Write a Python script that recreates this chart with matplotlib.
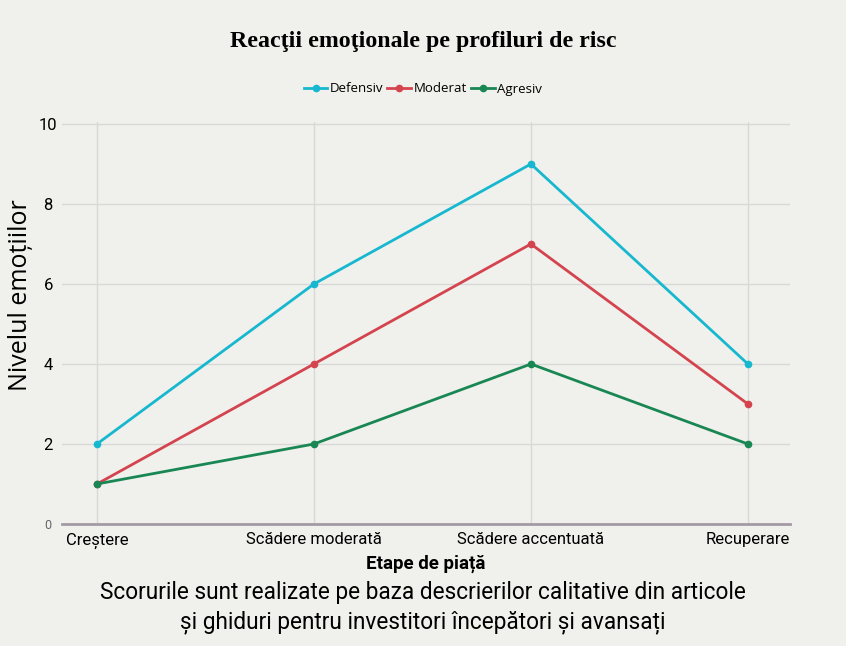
import matplotlib
matplotlib.use("Agg")
from matplotlib import pyplot as plt
import numpy as np

# data
etape = ["Creștere", "Scădere moderată", "Scădere accentuată", "Recuperare"]
defensiv = [2, 6, 9, 4]
moderat = [1, 4, 7, 3]
agresiv = [1, 2, 4, 2]
y_ticks = [0, 2, 4, 6, 8, 10]

bg = "#f0f1ec"
sans = ["Roboto", "DejaVu Sans"]

fig = plt.figure(figsize=(8.46, 6.46), dpi=100, facecolor=bg)
ax = fig.add_axes([62/846, 1-524/646, (790-62)/846, (524-122)/646], facecolor=bg)

x = np.arange(len(etape))
ax.plot(x, defensiv, color="#17b8cf", lw=2, marker="o", ms=4.5, label="Defensiv")
ax.plot(x, moderat, color="#d4444f", lw=2, marker="o", ms=4.5, label="Moderat")
ax.plot(x, agresiv, color="#198754", lw=2, marker="o", ms=4.5, label="Agresiv")

ax.set_xlim(-0.161, 3.194)
ax.set_ylim(0, 10.05)
ax.set_xticks(x)
ax.set_xticklabels(etape, fontsize=12, family=sans)
ax.set_yticks(y_ticks)
ax.set_yticklabels([str(v) for v in y_ticks], fontsize=12, family=sans)
ax.get_yticklabels()[0].set_fontsize(9)
ax.get_yticklabels()[0].set_color("#666666")
for lab in ax.get_yticklabels():
    lab.set_horizontalalignment("center")
ax.tick_params(axis="y", length=0, pad=10)
ax.tick_params(axis="x", length=0, pad=6)

ax.grid(True, color="#d8d8d8", lw=1)
ax.set_axisbelow(True)
for s in ["top", "right", "left"]:
    ax.spines[s].set_visible(False)
ax.spines["bottom"].set_color("#a39aa6")
ax.spines["bottom"].set_linewidth(2)

ax.set_xlabel("Etape de piață", fontsize=13.5, fontweight="bold", family=sans, labelpad=4)
ax.set_ylabel("Nivelul emoțiilor", fontsize=18, family=["Open Sans", "DejaVu Sans"])
ax.yaxis.set_label_coords(-0.04, 0.57)

fig.text(0.5, 1-42/646, "Reacţii emoţionale pe profiluri de risc", ha="center", va="center",
         fontsize=17.2, fontweight="bold", family=["Liberation Serif", "DejaVu Serif"])

leg = fig.legend(loc="center", bbox_to_anchor=(0.5, 1-89/646), ncol=3, frameon=False,
                 handlelength=1.8, handletextpad=0.2, columnspacing=0.3,
                 prop={"family": ["Open Sans", "DejaVu Sans"], "size": 9.5})

fig.text(0.5, 1-593/646, "Scorurile sunt realizate pe baza descrierilor calitative din articole",
         ha="center", va="center", fontsize=16.3, family=sans)
fig.text(0.5, 1-622/646, "și ghiduri pentru investitori începători și avansați",
         ha="center", va="center", fontsize=16.3, family=sans)

fig.savefig("out.png", dpi=100, facecolor=bg)
